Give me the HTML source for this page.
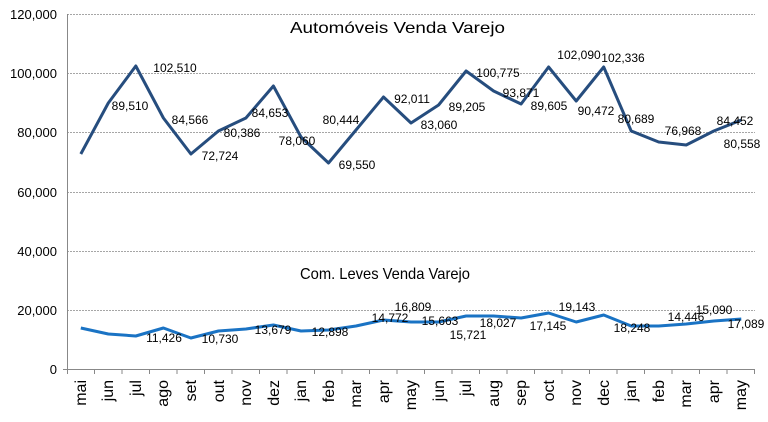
<!DOCTYPE html><html><head><meta charset="utf-8"><style>body{margin:0;background:#fff}svg{display:block;font-family:"Liberation Sans",sans-serif}</style></head><body>
<svg width="768" height="422" viewBox="0 0 768 422">
<g stroke="#a6a6a6" stroke-dasharray="2,1" stroke-width="1">
<line x1="67" y1="14.5" x2="755" y2="14.5"/><line x1="67" y1="73.5" x2="755" y2="73.5"/><line x1="67" y1="132.5" x2="755" y2="132.5"/><line x1="67" y1="192.5" x2="755" y2="192.5"/><line x1="67" y1="251.5" x2="755" y2="251.5"/><line x1="67" y1="310.5" x2="755" y2="310.5"/></g>
<g stroke="#888" stroke-width="1"><line x1="67.5" y1="14" x2="67.5" y2="374"/><line x1="63" y1="369.5" x2="755" y2="369.5"/>
<path d="M94.5 369v5M122 369v5M149.5 369v5M177 369v5M204.5 369v5M232 369v5M259.5 369v5M287 369v5M314.5 369v5M342 369v5M369.5 369v5M397 369v5M424.5 369v5M452 369v5M479.5 369v5M507 369v5M534.5 369v5M562 369v5M589.5 369v5M617 369v5M644.5 369v5M672 369v5M699.5 369v5M727 369v5M754.5 369v5"/></g>
<g font-size="13" text-anchor="end" fill="#000"><text x="57" y="19">120,000</text><text x="57" y="78">100,000</text><text x="57" y="137">80,000</text><text x="57" y="197">60,000</text><text x="57" y="256">40,000</text><text x="57" y="315">20,000</text><text x="57" y="374">0</text></g>
<g font-size="16" text-anchor="end" fill="#000">
<text transform="translate(86,380) rotate(-90)">mai</text><text transform="translate(113,380) rotate(-90)">jun</text><text transform="translate(141,380) rotate(-90)">jul</text><text transform="translate(168,380) rotate(-90)">ago</text><text transform="translate(196,380) rotate(-90)">set</text><text transform="translate(224,380) rotate(-90)">out</text><text transform="translate(251,380) rotate(-90)">nov</text><text transform="translate(279,380) rotate(-90)">dez</text><text transform="translate(306,380) rotate(-90)">jan</text><text transform="translate(334,380) rotate(-90)">feb</text><text transform="translate(361,380) rotate(-90)">mar</text><text transform="translate(389,380) rotate(-90)">apr</text><text transform="translate(416,380) rotate(-90)">may</text><text transform="translate(444,380) rotate(-90)">jun</text><text transform="translate(471,380) rotate(-90)">jul</text><text transform="translate(499,380) rotate(-90)">aug</text><text transform="translate(526,380) rotate(-90)">sep</text><text transform="translate(554,380) rotate(-90)">oct</text><text transform="translate(581,380) rotate(-90)">nov</text><text transform="translate(609,380) rotate(-90)">dec</text><text transform="translate(636,380) rotate(-90)">jan</text><text transform="translate(664,380) rotate(-90)">feb</text><text transform="translate(691,380) rotate(-90)">mar</text><text transform="translate(719,380) rotate(-90)">apr</text><text transform="translate(746,380) rotate(-90)">may</text></g>
<polyline fill="none" stroke="#264d7e" stroke-width="3" stroke-linejoin="round" points="80.8,154 108.3,103 135.8,66 163.4,118 190.9,154 218.4,131 245.9,118 273.4,86 301,137 328.5,163 356,130 383.5,97 411,123 438.6,105 466.1,71 493.6,91 521.1,104 548.6,67 576.2,101 603.7,67 631.2,131 658.7,142 686.2,145 713.8,131 741.3,120"/>
<polyline fill="none" stroke="#1a73c4" stroke-width="3" stroke-linejoin="round" points="80.8,328 108.3,334 135.8,336 163.4,328 190.9,338 218.4,331 245.9,329 273.4,325 301,331 328.5,330 356,326 383.5,320 411,322 438.6,322 466.1,316 493.6,316 521.1,318 548.6,313 576.2,322 603.7,315 631.2,326 658.7,326 686.2,324 713.8,321 741.3,319"/>
<text x="290" y="33" font-size="16" textLength="215" lengthAdjust="spacingAndGlyphs">Automóveis Venda Varejo</text>
<text x="300" y="279" font-size="16" textLength="170" lengthAdjust="spacingAndGlyphs">Com. Leves Venda Varejo</text>
<g font-size="12" text-anchor="middle" fill="#000">
<text x="175" y="72">102,510</text><text x="130" y="110">89,510</text><text x="190" y="124">84,566</text><text x="220" y="160">72,724</text><text x="242" y="137">80,386</text><text x="270" y="117">84,653</text><text x="297" y="145">78,060</text><text x="357" y="169">69,550</text><text x="341" y="124">80,444</text><text x="412" y="103">92,011</text><text x="439" y="129">83,060</text><text x="467" y="111">89,205</text><text x="498" y="77">100,775</text><text x="521" y="97">93,871</text><text x="549" y="110">89,605</text><text x="579" y="59">102,090</text><text x="623" y="62">102,336</text><text x="596" y="115">90,472</text><text x="636" y="123">80,689</text><text x="683" y="135">76,968</text><text x="735" y="125">84,452</text><text x="742" y="148">80,558</text>
<text x="164" y="342">11,426</text><text x="220" y="343">10,730</text><text x="273" y="334">13,679</text><text x="330" y="336">12,898</text><text x="390" y="322">14,772</text><text x="413" y="311">16,809</text><text x="440" y="325">15,663</text><text x="468" y="339">15,721</text><text x="498" y="327">18,027</text><text x="548" y="330">17,145</text><text x="577" y="311">19,143</text><text x="632" y="332">18,248</text><text x="686" y="321">14,446</text><text x="714" y="314">15,090</text><text x="746" y="328">17,089</text></g>
</svg></body></html>
